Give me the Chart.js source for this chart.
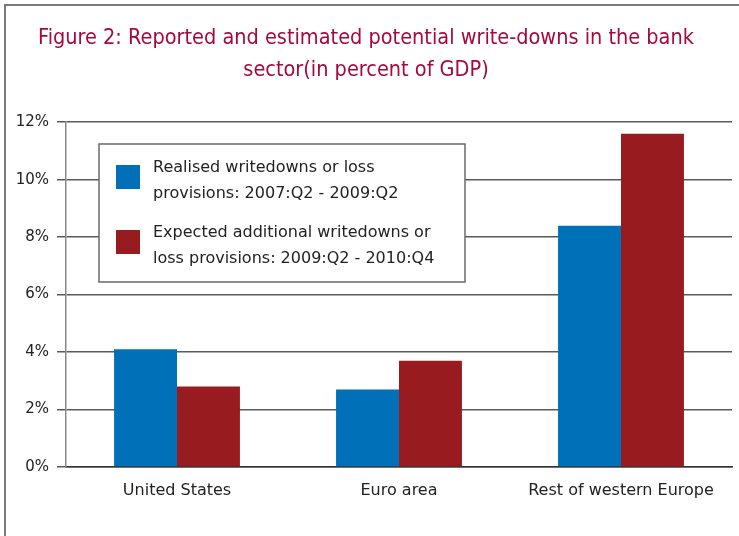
<!DOCTYPE html>
<html>
<head>
<meta charset="utf-8">
<script src="https://cdn.jsdelivr.net/npm/chart.js@4"></script>
<style>
  html, body { margin: 0; padding: 0; background: #fff; }
  #wrap { position: relative; width: 739px; height: 536px; overflow: hidden; }
  #frame { position: absolute; left: 4px; top: 4px; width: 800px; height: 600px;
           border-left: 2px solid #7a7a7a; border-top: 2px solid #7a7a7a; }
  canvas { position: absolute; left: 0; top: 0; }
</style>
</head>
<body>
<div id="wrap">
  <div id="frame"></div>
  <canvas id="chart" width="739" height="536"></canvas>
</div>
<script>
// Data (percent of GDP)
const categories = ["United States", "Euro area", "Rest of western Europe"];
const realised = [4.1, 2.7, 8.4];
const expected = [2.8, 3.7, 11.6];
const seriesLabels = [
  ["Realised writedowns or loss", "provisions: 2007:Q2 - 2009:Q2"],
  ["Expected additional writedowns or", "loss provisions: 2009:Q2 - 2010:Q4"]
];
const yTicks = [0, 2, 4, 6, 8, 10, 12];

const BLUE = "#0070b8";
const RED = "#981b1f";
const TEXT = "#222";
const FONT = "'DejaVu Sans', sans-serif";

// Legend drawn as a boxed block inside the plot, like the original
const boxLegend = {
  id: "boxLegend",
  afterDraw(chart) {
    const { ctx } = chart;
    const x = 99, y = 144, w = 366, h = 138;
    ctx.save();
    ctx.fillStyle = "#fff";
    ctx.fillRect(x, y, w, h);
    ctx.strokeStyle = "#6a6a6a";
    ctx.lineWidth = 1.5;
    ctx.strokeRect(x, y, w, h);

    ctx.font = "16px " + FONT;
    ctx.textBaseline = "middle";
    ctx.textAlign = "left";
    chart.data.datasets.forEach((ds, i) => {
      const top = y + 21 + i * 65;
      ctx.fillStyle = ds.backgroundColor;
      ctx.fillRect(x + 17, top, 24, 24);
      ctx.fillStyle = TEXT;
      ds.label.forEach((line, j) => {
        ctx.fillText(line, x + 54, top + 3 + j * 26);
      });
    });
    ctx.restore();
  }
};

new Chart(document.getElementById("chart"), {
  type: "bar",
  data: {
    labels: categories,
    datasets: [
      { label: seriesLabels[0], data: realised, backgroundColor: BLUE },
      { label: seriesLabels[1], data: expected, backgroundColor: RED }
    ]
  },
  options: {
    responsive: false,
    animation: false,
    layout: { padding: { left: 0, right: 7, top: 0, bottom: 0 } },
    datasets: {
      bar: { barPercentage: 1, categoryPercentage: 0.567 }
    },
    plugins: {
      legend: { display: false },
      tooltip: { enabled: false },
      title: {
        display: true,
        text: [
          "Figure 2: Reported and estimated potential write-downs in the bank",
          "sector(in percent of GDP)"
        ],
        color: "#a6093d",
        font: { family: "'DejaVu Sans Condensed', 'DejaVu Sans', sans-serif", size: 21.5, weight: "normal", lineHeight: 1.47 },
        padding: { top: 23, bottom: 36 }
      }
    },
    scales: {
      x: {
        grid: { display: false },
        border: { display: true, color: "#333", width: 1.5 },
        ticks: { color: TEXT, font: { family: FONT, size: 16 }, padding: 6 },
        afterFit(scale) { scale.height = 69; }
      },
      y: {
        min: 0,
        max: 12,
        afterBuildTicks(scale) { scale.ticks = yTicks.map(v => ({ value: v })); },
        ticks: {
          color: TEXT,
          font: { family: FONT, size: 15 },
          padding: 8,
          callback: v => v + "%"
        },
        grid: { color: "#5a5a5a", lineWidth: 1.5, tickLength: 9 },
        border: { display: true, color: "#888", width: 1.5 },
        afterFit(scale) { scale.width = 66; }
      }
    }
  },
  plugins: [boxLegend]
});
</script>
</body>
</html>
